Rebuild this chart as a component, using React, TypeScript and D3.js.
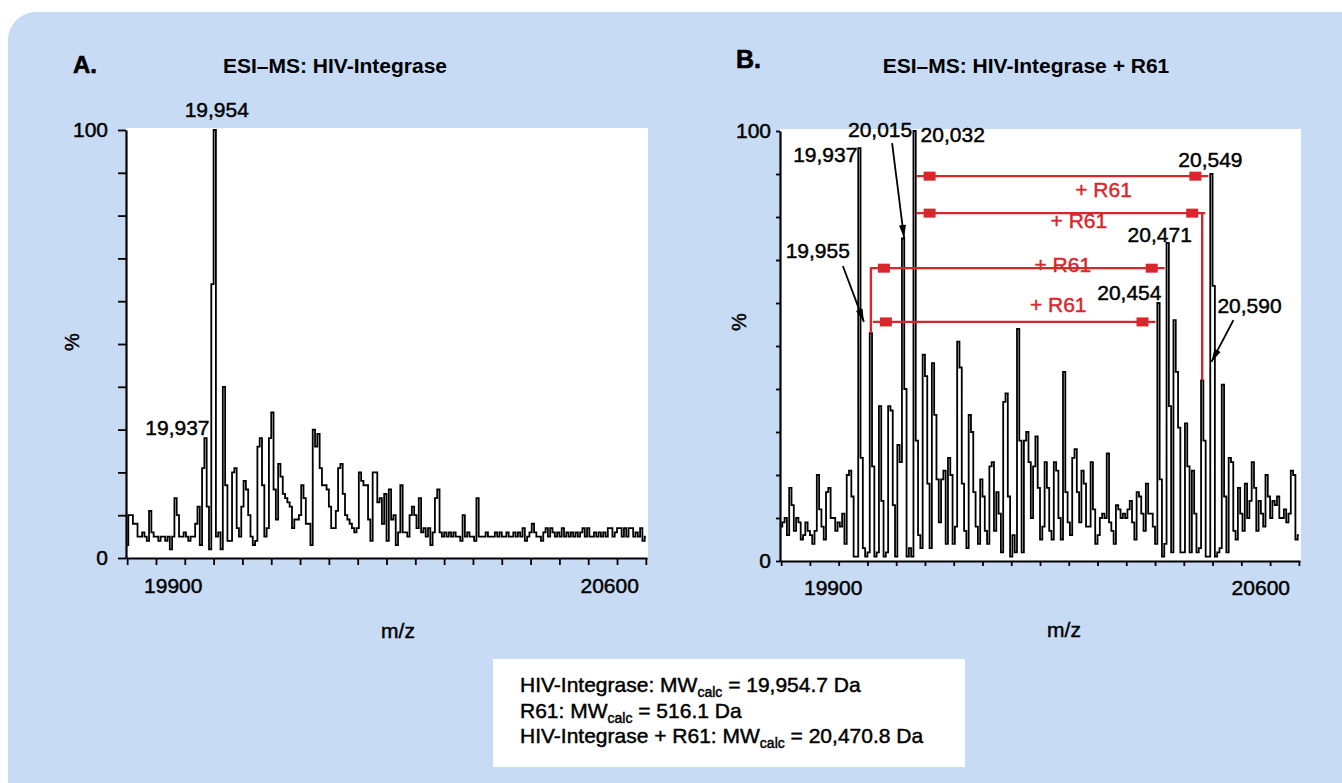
import React, { useEffect, useRef } from "react";
import * as d3 from "d3";

// both spectra are sampled on the same grid: bin centre = mzStart + i * mzStep
const mzStart = 19800;
const mzStep = 4;
const mzDomain: [number, number] = [19798, 20702];
const mzTicks = d3.range(19800, 20701, 50);
const mzTickLabels = [19900, 20600];
const pctTicks = d3.range(0, 101, 10);
const pctTickLabels = [0, 100];

// relative intensity (%) of panel A, 19800 .. 20700
const intensityA = [
  3, 10, 10, 8, 8, 5, 5, 6, 5, 4,
  11, 6, 5, 5, 4, 5, 5, 4, 5, 2,
  5, 14, 10, 5, 5, 6, 5, 4, 5, 5,
  8, 12, 3, 21, 28, 12, 2, 64, 100, 5,
  6, 2, 40, 17, 4, 4, 20, 21, 7, 5,
  12, 18, 16, 10, 5, 3, 4, 26, 28, 17,
  5, 7, 28, 34, 16, 9, 22, 19, 15, 14,
  13, 12, 7, 9, 9, 10, 17, 14, 8, 8,
  3, 30, 26, 29, 21, 17, 17, 16, 12, 7,
  7, 11, 21, 22, 15, 10, 9, 8, 7, 6,
  7, 20, 18, 17, 17, 9, 4, 20, 20, 13,
  14, 8, 15, 4, 16, 9, 10, 3, 6, 17,
  6, 6, 5, 10, 12, 10, 7, 14, 6, 7,
  5, 7, 3, 6, 14, 16, 6, 5, 6, 5,
  6, 5, 6, 5, 5, 4, 10, 5, 6, 5,
  5, 4, 14, 5, 5, 5, 6, 5, 5, 5,
  6, 5, 6, 5, 5, 6, 5, 5, 6, 5,
  6, 5, 7, 4, 5, 6, 8, 6, 5, 5,
  4, 6, 7, 5, 7, 6, 5, 6, 5, 7,
  5, 6, 5, 6, 5, 6, 5, 6, 7, 5,
  7, 5, 5, 6, 5, 6, 5, 6, 5, 7,
  7, 5, 6, 7, 7, 5, 7, 5, 7, 7,
  5, 6, 5, 7, 4, 5,
];

// relative intensity (%) of panel B, same grid
const intensityB = [
  8, 9, 10, 6, 17, 13, 7, 10, 9, 5,
  6, 9, 7, 6, 4, 7, 20, 12, 8, 5,
  16, 17, 10, 10, 7, 9, 8, 11, 4, 20,
  21, 15, 1, 1, 96, 24, 3, 1, 2, 53,
  22, 1, 2, 36, 14, 1, 2, 36, 35, 13,
  1, 27, 23, 75, 40, 1, 3, 1, 100, 28,
  6, 3, 48, 43, 18, 3, 46, 34, 19, 9,
  19, 21, 4, 24, 20, 4, 8, 51, 45, 18,
  7, 3, 34, 30, 16, 8, 4, 19, 15, 7,
  4, 22, 23, 7, 16, 11, 2, 37, 39, 15,
  1, 6, 2, 54, 28, 2, 28, 30, 23, 10,
  22, 29, 17, 5, 8, 23, 17, 7, 5, 23,
  21, 10, 5, 44, 16, 9, 6, 24, 26, 16,
  9, 21, 18, 8, 8, 23, 12, 4, 6, 10,
  11, 10, 25, 9, 7, 4, 13, 12, 10, 11,
  10, 12, 14, 9, 5, 16, 15, 11, 7, 18,
  11, 11, 8, 4, 60, 19, 1, 4, 74, 36,
  2, 56, 44, 31, 2, 2, 32, 22, 2, 21,
  11, 2, 3, 42, 28, 1, 1, 90, 64, 1,
  2, 3, 41, 15, 2, 24, 23, 7, 5, 17,
  11, 7, 18, 10, 14, 23, 17, 7, 14, 11,
  8, 20, 15, 10, 14, 13, 15, 10, 10, 12,
  9, 11, 21, 20, 5, 6,
];

// labelled peaks (label text, m/z bin of the peak)
const peakLabelsA = ["19,954", "19,937"];
const peakMzA = [19952, 19936];
const peakLabelsB = ["19,937", "20,015", "20,032", "19,955", "20,454", "20,471", "20,549", "20,590"];
const peakMzB = [19936, 20012, 20032, 19956, 20456, 20472, 20548, 20588];

// + R61 adduct links in panel B
const r61From = [20032, 20032, 19956, 19956];
const r61To = [20548, 20532, 20472, 20456];
const r61Level = [89.5, 80.9, 68.1, 55.6];

const mwNames = ["HIV-Integrase", "R61", "HIV-Integrase + R61"];
const mwValues = ["19,954.7", "516.1", "20,470.8"];

const FONT = "'Liberation Sans', Arial, Helvetica, sans-serif";
const RED = "#d8262b";
const BG = "#c7dbf4";
const INK = 0.45; // faux-heavy stroke on regular text, the print is a bit bolder

// label placement: anchor, dx from peak, baseline height (%), optional leader [dx1, pct1, dx2, pct2]
const labelLayout: Record<string, any> = {
  "A19,954": { anchor: "middle", dx: 2, pct: 103 },
  "A19,937": { anchor: "end", dx: 4, pct: 28.7 },
  "B19,937": { anchor: "end", dx: -2, pct: 92.8 },
  "B20,015": { anchor: "middle", dx: -23, pct: 98.6, leader: [-11, 97.2, 1, 75.1] },
  "B20,032": { anchor: "start", dx: 6, pct: 97.4 },
  "B19,955": { anchor: "end", dx: -21, pct: 70.5, leader: [-28, 68.6, -7, 55.6] },
  "B20,454": { anchor: "end", dx: 3, pct: 60.7 },
  "B20,471": { anchor: "middle", dx: -8, pct: 74.2 },
  "B20,549": { anchor: "middle", dx: -1, pct: 91.6 },
  "B20,590": { anchor: "start", dx: -17, pct: 57.7, leader: [-1, 56, -23, 46.3] },
};
const r61Drop = ["", "to", "from", ""];
const r61LabelOffset = [[41, 21], [18, 15], [45, 4], [44, -10]];

const idx = (mz: number) => Math.round((mz - mzStart) / mzStep);

function leader(g: any, x1: number, y1: number, x2: number, y2: number) {
  g.append("line")
    .attr("x1", x1).attr("y1", y1).attr("x2", x2).attr("y2", y2)
    .attr("stroke", "#000").attr("stroke-width", 1.8);
  const len = Math.hypot(x2 - x1, y2 - y1);
  const ux = (x2 - x1) / len, uy = (y2 - y1) / len;
  const bx = x2 - ux * 13, by = y2 - uy * 13;
  g.append("polygon")
    .attr("points", `${x2},${y2} ${bx - uy * 3.5},${by + ux * 3.5} ${bx + uy * 3.5},${by - ux * 3.5}`)
    .attr("fill", "#000");
}

function drawPanel(svg: any, key: string, data: number[], labels: string[], mzs: number[], box: any) {
  const x = d3.scaleLinear().domain(mzDomain).range([box.left, box.right]);
  const y = d3.scaleLinear().domain([0, 100]).range([box.bottom, box.top]);
  const g = svg.append("g");

  g.append("rect")
    .attr("x", box.left).attr("y", box.top - 2)
    .attr("width", box.right - box.left + 1).attr("height", box.bottom - box.top + 2)
    .attr("fill", "#fff");

  const line = d3.line<number>()
    .x((_, i) => x(mzStart + i * mzStep))
    .y((d) => y(d))
    .curve(d3.curveStep);
  g.append("path")
    .attr("d", line(data))
    .attr("fill", "none")
    .attr("stroke", "#000")
    .attr("stroke-width", 1.8);

  const yAxis = g.append("g")
    .attr("transform", `translate(${box.left},0)`)
    .call(d3.axisLeft(y).tickValues(pctTicks).tickSize(box.yTick).tickSizeOuter(0).tickPadding(box.yPad)
      .tickFormat((d: any) => (pctTickLabels.includes(+d) ? String(d) : "")));
  const xAxis = g.append("g")
    .attr("transform", `translate(0,${box.bottom})`)
    .call(d3.axisBottom(x).tickValues(mzTicks).tickSize(box.xTick).tickSizeOuter(0).tickPadding(box.xPad)
      .tickFormat((d: any) => (mzTickLabels.includes(+d) ? String(d) : "")));
  xAxis.selectAll(".tick text").attr("dx", (d: any) => (d === mzTickLabels[0] ? box.nudge[0] : box.nudge[1]));
  [yAxis, xAxis].forEach((a) => {
    a.attr("font-family", FONT).attr("font-size", 21);
    a.selectAll("text").attr("fill", "#000").attr("stroke", "#000").attr("stroke-width", INK);
    a.select(".domain").attr("stroke-width", 2.2);
    a.selectAll(".tick line").attr("stroke-width", 1.8);
  });

  // axis titles
  g.append("text")
    .attr("x", box.mzX).attr("y", box.mzY)
    .attr("text-anchor", "middle").attr("font-family", FONT).attr("font-size", 21)
    .attr("stroke", "#000").attr("stroke-width", INK)
    .text("m/z");
  g.append("text")
    .attr("transform", `translate(${box.pctX},${box.pctY}) rotate(-90)`)
    .attr("text-anchor", "middle").attr("dy", "0.35em").attr("font-family", FONT).attr("font-size", 20)
    .attr("stroke", "#000").attr("stroke-width", INK)
    .text("%");

  // peak labels
  labels.forEach((lab, k) => {
    const lay = labelLayout[key + lab];
    const px = x(mzs[k]);
    g.append("text")
      .attr("x", px + lay.dx).attr("y", y(lay.pct))
      .attr("text-anchor", lay.anchor)
      .attr("font-family", FONT).attr("font-size", 21)
      .attr("stroke", "#000").attr("stroke-width", INK)
      .text(lab);
    if (lay.leader) {
      const [dx1, p1, dx2, p2] = lay.leader;
      leader(g, px + dx1, y(p1), px + dx2, y(p2));
    }
  });

  return { g, x, y };
}

function draw(svg: any) {
  svg.append("rect").attr("width", 1342).attr("height", 783).attr("fill", "#fff");
  svg.append("rect")
    .attr("x", 8).attr("y", 12).attr("width", 1400).attr("height", 840)
    .attr("rx", 28).attr("fill", BG);

  const txt = (x: number, y: number, s: string, size: number, weight = "normal", anchor = "start") =>
    svg.append("text")
      .attr("x", x).attr("y", y)
      .attr("font-family", FONT).attr("font-size", size).attr("font-weight", weight)
      .attr("text-anchor", anchor)
      .text(s);

  txt(73, 73, "A.", 24, "bold").attr("stroke", "#000").attr("stroke-width", 0.6);
  txt(335, 73, "ESI\u2013MS: HIV-Integrase", 21, "bold", "middle");
  txt(736, 68, "B.", 25, "bold").attr("stroke", "#000").attr("stroke-width", 0.6);
  txt(1026, 73, "ESI\u2013MS: HIV-Integrase + R61", 21, "bold", "middle");

  drawPanel(svg, "A", intensityA, peakLabelsA, peakMzA, {
    left: 126, right: 647, top: 130, bottom: 558,
    yTick: 8, yPad: 10, xTick: 7, xPad: 13, nudge: [-12, 21],
    mzX: 398, mzY: 638, pctX: 72, pctY: 342,
  });

  const B = drawPanel(svg, "B", intensityB, peakLabelsB, peakMzB, {
    left: 780, right: 1300, top: 131, bottom: 561,
    yTick: 4, yPad: 5, xTick: 5, xPad: 14, nudge: [-6, 19],
    mzX: 1064, mzY: 637, pctX: 739, pctY: 322,
  });

  // + R61 links
  const { g, x, y } = B;
  r61From.forEach((from, k) => {
    const to = r61To[k];
    const drop = r61Drop[k];
    const yl = y(r61Level[k]);
    const xa = x(from) + (drop === "from" ? 0 : 2);
    const xb = x(to) + (drop === "to" ? 3 : -3);
    g.append("line")
      .attr("x1", xa).attr("x2", xb).attr("y1", yl).attr("y2", yl)
      .attr("stroke", RED).attr("stroke-width", 2.4);
    if (drop) {
      const mz = drop === "from" ? from : to;
      g.append("line")
        .attr("x1", x(mz)).attr("x2", x(mz))
        .attr("y1", yl - 1).attr("y2", y(intensityB[idx(mz)]))
        .attr("stroke", RED).attr("stroke-width", 2.4);
    }
    [xa + 7, xb - 19].forEach((mx) => {
      g.append("rect")
        .attr("x", mx).attr("y", yl - 4.5)
        .attr("width", 12).attr("height", 9)
        .attr("fill", RED);
    });
    const [ldx, ldy] = r61LabelOffset[k];
    g.append("text")
      .attr("x", (xa + xb) / 2 + ldx).attr("y", yl + ldy)
      .attr("text-anchor", "middle")
      .attr("font-family", FONT).attr("font-size", 21)
      .attr("fill", RED).attr("stroke", RED).attr("stroke-width", INK)
      .text("+ R61");
  });

  // calculated masses box
  svg.append("rect")
    .attr("x", 493).attr("y", 659).attr("width", 472).attr("height", 108)
    .attr("fill", "#fff");
  mwNames.forEach((name, k) => {
    const t = svg.append("text")
      .attr("x", 520).attr("y", 692 + k * 25.5)
      .attr("font-family", FONT).attr("font-size", 21)
      .attr("stroke", "#000").attr("stroke-width", INK);
    t.append("tspan").text(`${name}: MW`);
    t.append("tspan").attr("font-size", 14).attr("dy", 5).text("calc");
    t.append("tspan").attr("dy", -5).text(` = ${mwValues[k]} Da`);
  });
}

const App = () => {
  const ref = useRef<SVGSVGElement | null>(null);

  useEffect(() => {
    const svg = d3.select(ref.current);
    svg.selectAll("*").remove();
    draw(svg);
  }, []);

  return (
    <svg
      ref={ref}
      width={1342}
      height={783}
      style={{ position: "absolute", left: 0, top: 0, display: "block" }}
    />
  );
};

export default App;
